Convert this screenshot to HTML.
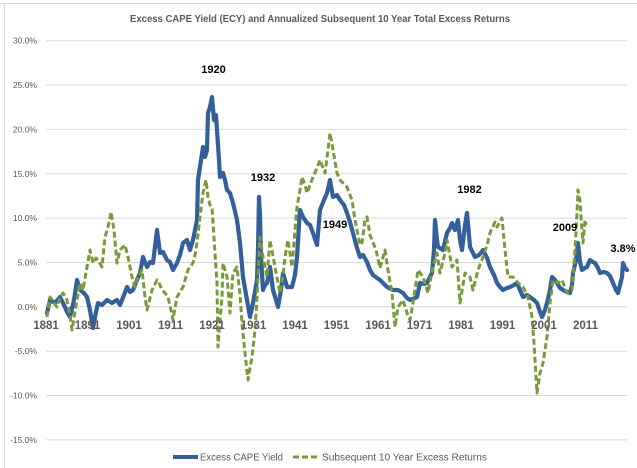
<!DOCTYPE html>
<html><head><meta charset="utf-8"><style>
html,body{margin:0;padding:0;background:#fff;}
svg{display:block;}
text{font-family:"Liberation Sans",sans-serif;}
</style></head><body>
<svg width="637" height="468" viewBox="0 0 637 468" xmlns="http://www.w3.org/2000/svg">
<rect x="0" y="0" width="637" height="468" fill="#fff"/>
<line x1="0" y1="3.5" x2="637" y2="3.5" stroke="#d9d9d9" stroke-width="1"/>
<line x1="4.5" y1="3.5" x2="4.5" y2="468" stroke="#d9d9d9" stroke-width="1"/>
<text x="130" y="22" font-size="10" font-weight="bold" fill="#595959" textLength="380" lengthAdjust="spacingAndGlyphs">Excess CAPE Yield (ECY) and Annualized Subsequent 10 Year Total Excess Returns</text>
<g stroke="#d9d9d9" stroke-width="1">
<line x1="46" y1="40.7" x2="627" y2="40.7"/>
<line x1="46" y1="85.1" x2="627" y2="85.1"/>
<line x1="46" y1="129.4" x2="627" y2="129.4"/>
<line x1="46" y1="173.8" x2="627" y2="173.8"/>
<line x1="46" y1="218.1" x2="627" y2="218.1"/>
<line x1="46" y1="262.5" x2="627" y2="262.5"/>
<line x1="46" y1="306.8" x2="627" y2="306.8"/>
<line x1="46" y1="351.2" x2="627" y2="351.2"/>
<line x1="46" y1="395.5" x2="627" y2="395.5"/>
<line x1="46" y1="439.9" x2="627" y2="439.9"/>
</g>
<g font-size="8.5" fill="#595959" text-anchor="end">
<text x="37" y="43.7">30.0%</text>
<text x="37" y="88.1">25.0%</text>
<text x="37" y="132.4">20.0%</text>
<text x="37" y="176.8">15.0%</text>
<text x="37" y="221.1">10.0%</text>
<text x="37" y="265.5">5.0%</text>
<text x="37" y="309.8">0.0%</text>
<text x="37" y="354.2">-5.0%</text>
<text x="37" y="398.5">-10.0%</text>
<text x="37" y="442.9">-15.0%</text>
</g>
<polyline fill="none" stroke="#33609a" stroke-width="4.2" stroke-linejoin="round" stroke-linecap="round" points="47,313 50,300 55,303 60,297 64,305 67,312 70,317 74,300 77,280 80,290 84,293 87,297 90,310 93,328 96,312 98,303 102,305 107,300 112,303 117,300 120,305 124,295 127,287 130,292 133,290 137,280 140,273 143,257 147,267 150,262 153,263 157,230 160,253 163,252 167,260 170,262 173,270 177,263 180,255 183,243 187,240 190,250 193,240 197,220 198,180 200,167 203,147 205,157 207,150 208,113 210,107 212,97 214,120 216,115 217,130 219,160 220,177 223,173 225,180 227,190 230,193 233,203 237,220 240,243 243,277 247,300 250,317 253,303 257,280 258,250 259,197 260,215 261,257 263,290 265,285 267,283 270,267 273,290 276,300 278,307 281,290 283,273 287,287 292,287 295,275 297,257 299,225 300,210 303,217 307,223 310,225 313,233 317,245 320,210 324,200 327,193 330,180 333,197 337,195 340,200 344,205 347,213 350,222 353,233 357,248 360,257 363,255 367,262 370,270 373,275 377,278 380,280 387,287 393,290 398,290 403,293 407,298 410,300 413,299 417,297 420,283 424,284 427,283 432,273 434,250 435,220 437,240 438,247 443,250 447,233 450,228 452,223 455,230 458,220 460,240 462,250 465,225 467,213 469,235 470,247 475,257 479,255 483,250 487,258 490,267 494,275 497,283 500,287 503,290 507,288 510,287 514,285 517,283 520,290 523,297 527,295 530,297 534,300 537,303 540,312 542,317 545,310 547,303 550,290 552,277 555,280 557,283 560,288 563,290 567,292 570,293 572,285 573,273 576,260 578,243 580,262 582,270 585,268 587,267 590,260 593,262 595,263 598,268 600,273 604,272 607,273 610,276 613,283 616,290 618,293 620,285 622,277 623,263 625,268 627,270"/>
<polyline fill="none" stroke="#7a9a3a" stroke-width="3" stroke-dasharray="6 3" stroke-linejoin="round" points="47,317 50,297 54,303 57,307 60,298 63,293 67,300 70,315 72,330 75,312 77,300 80,283 83,290 87,267 90,250 93,263 96,258 98,260 102,267 105,237 108,227 111,212 114,230 117,263 120,250 125,245 128,257 132,277 135,287 138,277 142,270 145,297 147,310 150,298 152,290 157,280 160,285 162,290 165,293 168,297 171,310 173,320 175,308 177,297 180,292 183,287 188,270 193,263 195,255 197,243 200,217 203,193 206,180 208,197 210,205 212,207 213,223 215,253 217,283 218,347 220,320 222,297 223,263 227,277 230,313 233,273 237,267 240,295 242,323 245,353 248,380 250,368 252,357 255,330 257,297 260,237 263,257 267,277 270,240 275,267 280,293 283,275 285,257 288,240 292,267 295,230 297,207 300,190 302,177 305,185 307,193 310,185 313,177 317,168 320,160 325,173 328,150 330,133 333,150 337,173 340,180 343,183 347,187 350,195 352,200 355,220 357,230 360,245 362,243 365,220 367,217 370,235 372,240 376,250 380,268 385,250 388,270 392,293 395,327 398,307 403,300 407,313 410,320 413,303 418,270 423,277 428,293 433,267 437,253 440,273 445,253 447,240 452,267 457,260 460,303 465,273 470,277 473,290 478,270 483,257 487,245 490,233 495,222 497,227 502,218 505,250 508,277 513,277 518,283 523,287 528,297 532,317 534,343 537,393 540,373 543,363 547,337 550,303 553,280 558,283 562,280 567,293 572,290 575,250 577,213 578,190 580,200 581,217 583,243 585,220 586,225"/>
<g font-size="11.5" font-weight="bold" fill="#595959" text-anchor="middle">
<text x="46" y="329">1881</text>
<text x="87.5" y="329">1891</text>
<text x="129" y="329">1901</text>
<text x="170.5" y="329">1911</text>
<text x="212" y="329">1921</text>
<text x="253.5" y="329">1931</text>
<text x="295" y="329">1941</text>
<text x="336.5" y="329">1951</text>
<text x="378" y="329">1961</text>
<text x="419.5" y="329">1971</text>
<text x="461" y="329">1981</text>
<text x="502.5" y="329">1991</text>
<text x="544" y="329">2001</text>
<text x="585.5" y="329">2011</text>
</g>
<g font-size="11" font-weight="bold" fill="#000" text-anchor="middle">
<text x="213.5" y="73">1920</text>
<text x="263" y="181">1932</text>
<text x="335" y="228">1949</text>
<text x="469.5" y="193">1982</text>
<text x="565" y="231">2009</text>
<text x="623" y="252">3.8%</text>
</g>
<line x1="173" y1="457" x2="198" y2="457" stroke="#33609a" stroke-width="4"/>
<text x="200" y="460.5" font-size="10" fill="#595959" textLength="83" lengthAdjust="spacingAndGlyphs">Excess CAPE Yield</text>
<line x1="293" y1="457" x2="320" y2="457" stroke="#7a9a3a" stroke-width="3" stroke-dasharray="6 3"/>
<text x="322" y="460.5" font-size="10" fill="#595959" textLength="165" lengthAdjust="spacingAndGlyphs">Subsequent 10 Year Excess Returns</text>
</svg>
</body></html>
